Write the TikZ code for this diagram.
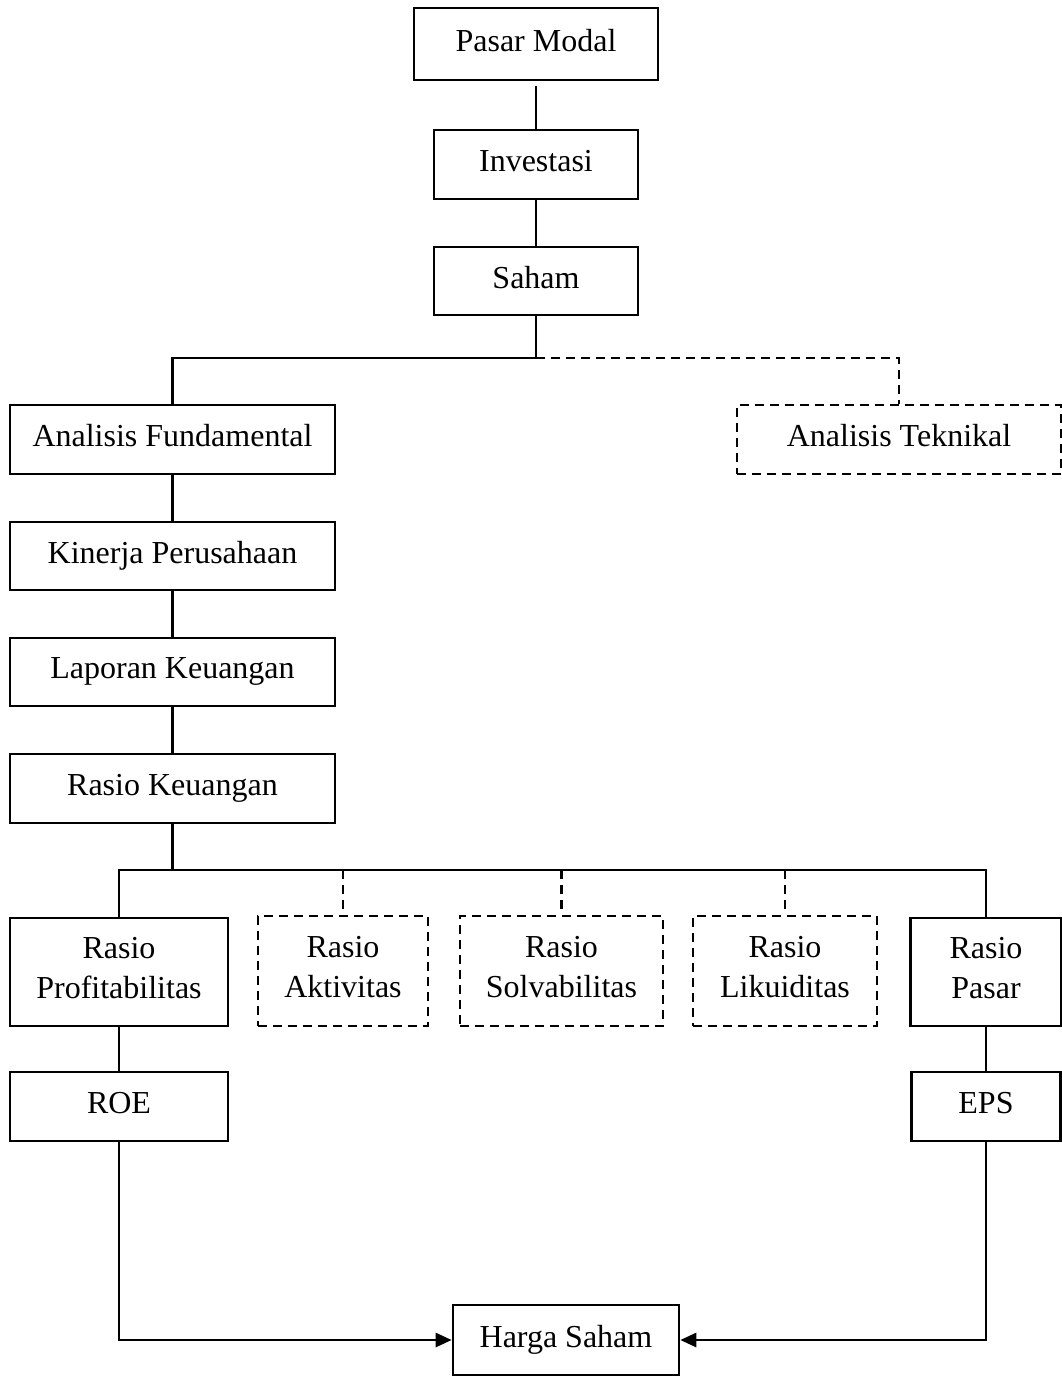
\documentclass[tikz,border=0pt]{standalone}
\usepackage{fontspec}
\setmainfont{Liberation Serif}
\usetikzlibrary{arrows.meta}
\begin{document}
\begin{tikzpicture}[x=1pt,y=-1pt,
  every node/.style={font=\fontsize{32}{40}\selectfont},
  box/.style={draw, line width=2.6pt, inner sep=0pt, align=center, rectangle, text depth=8pt},
  dbox/.style={box, dashed, dash pattern=on 9pt off 6pt},
  conn/.style={line width=2.6pt},
  dconn/.style={line width=2.2pt, dash pattern=on 9pt off 6pt},
  arr/.style={conn, -{Triangle[length=16pt,width=14pt]}}]
\useasboundingbox (0,0) rectangle (1062,1377);
\node[box, minimum width=244pt, minimum height=72pt] (pm) at (536,44) {Pasar Modal};
\node[box, minimum width=204pt, minimum height=69pt] (inv) at (536,164.5) {Investasi};
\node[box, minimum width=204pt, minimum height=68pt] (sh) at (536,281) {Saham};
\node[box, minimum width=325pt, minimum height=69pt] (af) at (172.5,439.5) {Analisis Fundamental};
\node[dbox, minimum width=324pt, minimum height=69pt] (at) at (899,439.5) {Analisis Teknikal};
\node[box, minimum width=325pt, minimum height=68pt] (kp) at (172.5,556) {Kinerja Perusahaan};
\node[box, minimum width=325pt, minimum height=68pt] (lk) at (172.5,672) {Laporan Keuangan};
\node[box, minimum width=325pt, minimum height=69pt] (rk) at (172.5,788.5) {Rasio Keuangan};
\node[box, minimum width=218pt, minimum height=108pt] (rp) at (119,972) {Rasio\\Profitabilitas};
\node[dbox, minimum width=170pt, minimum height=110pt] (ra) at (343,971) {Rasio\\Aktivitas};
\node[dbox, minimum width=203pt, minimum height=110pt] (rs) at (561.5,971) {Rasio\\Solvabilitas};
\node[dbox, minimum width=184pt, minimum height=110pt] (rl) at (785,971) {Rasio\\Likuiditas};
\node[box, minimum width=151pt, minimum height=108pt] (rpa) at (986,972) {Rasio\\Pasar};
\node[box, minimum width=218pt, minimum height=69pt] (roe) at (119,1106.5) {ROE};
\node[box, minimum width=149pt, minimum height=69pt] (eps) at (986,1106.5) {EPS};
\node[box, minimum width=226pt, minimum height=70pt] (hs) at (566,1340) {Harga Saham};
% top chain
\draw[conn, shorten <=5pt] (pm.south) -- (inv.north);
\draw[conn] (inv.south) -- (sh.north);
\coordinate (j1) at (536,358);
\draw[conn] (sh.south) -- (j1) -| (af.north);
\draw[dconn] (j1) -| (at.north);
\draw[conn] (af.south) -- (kp.north);
\draw[conn] (kp.south) -- (lk.north);
\draw[conn] (lk.south) -- (rk.north);
% ratio bus
\coordinate (j2) at (172.5,870);
\draw[conn] (rk.south) -- (j2);
\draw[conn] (rp.north) -- (rp.north |- j2) -- (rpa.north |- j2) -- (rpa.north);
\draw[dconn] (ra.north |- j2) -- (ra.north);
\draw[dconn] (rs.north |- j2) -- (rs.north);
\draw[dconn] (rl.north |- j2) -- (rl.north);
\draw[conn] (rp.south) -- (roe.north);
\draw[conn] (rpa.south) -- (eps.north);
% to Harga Saham
\draw[arr] (roe.south) |- (hs.west);
\draw[arr] (eps.south) |- (hs.east);
\end{tikzpicture}
\end{document}
